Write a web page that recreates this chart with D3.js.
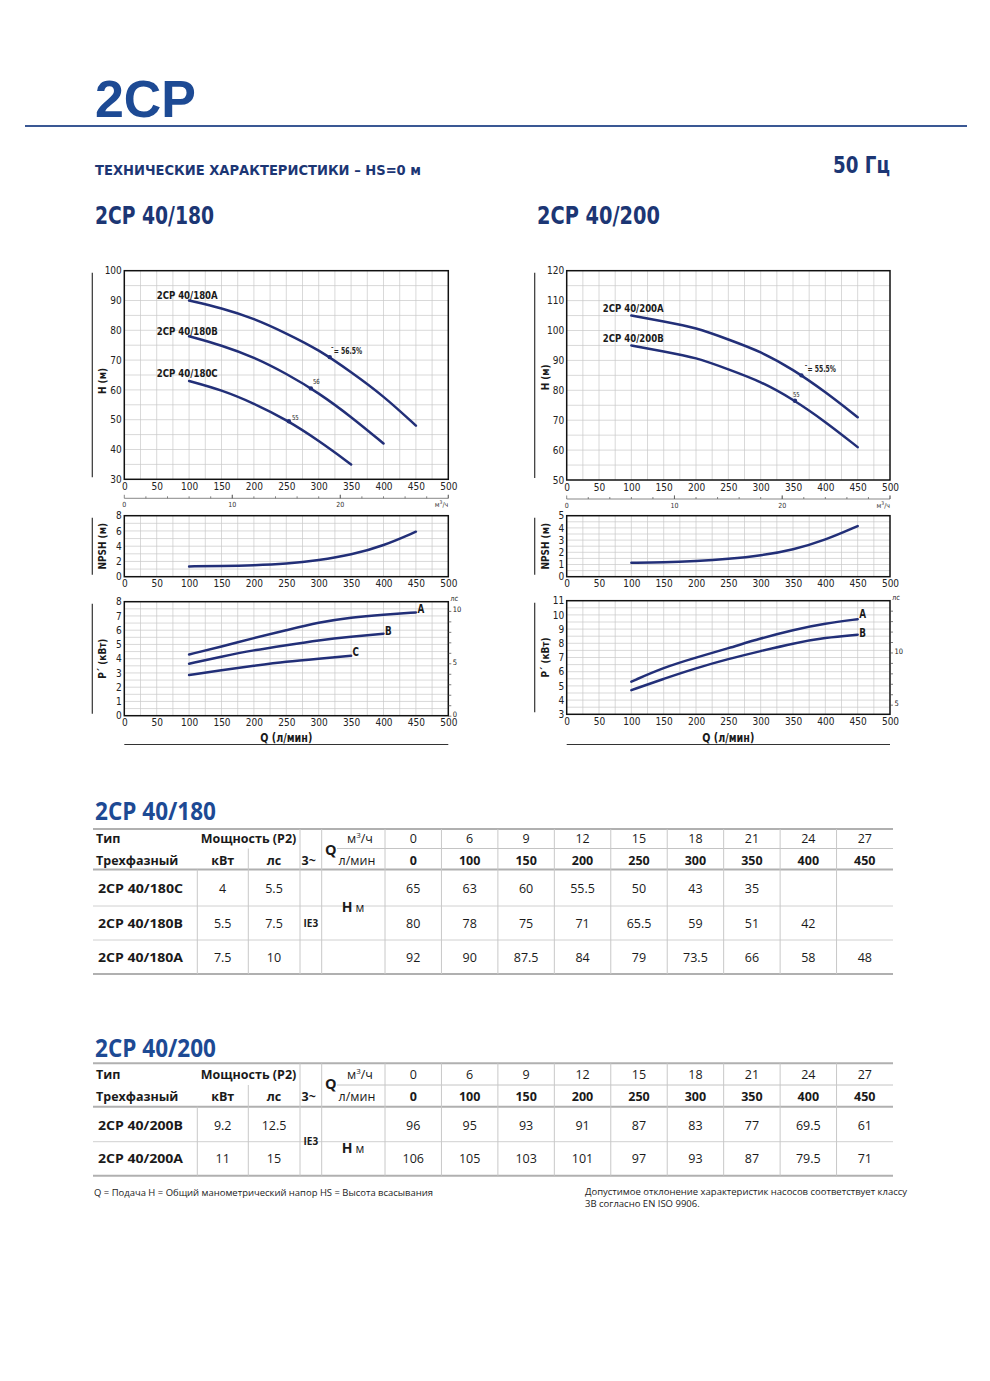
<!DOCTYPE html>
<html>
<head>
<meta charset="utf-8">
<script src="https://cdn.jsdelivr.net/npm/d3@7"></script>
<style>
  body { margin: 0; background: #fff; }
  svg { display: block; }
  .cond { font-stretch: condensed; }
</style>
</head>
<body>
<script>
// ---- table / curve data ----
var flowM3h = [0, 6, 9, 12, 15, 18, 21, 24, 27];
var flowLpm = [0, 100, 150, 200, 250, 300, 350, 400, 450];

var models180 = ["2CP 40/180C", "2CP 40/180B", "2CP 40/180A"];
var kw180 = [4, 5.5, 7.5];
var hp180 = [5.5, 7.5, 10];
var head180C = [65, 63, 60, 55.5, 50, 43, 35];
var head180B = [80, 78, 75, 71, 65.5, 59, 51, 42];
var head180A = [92, 90, 87.5, 84, 79, 73.5, 66, 58, 48];

var models200 = ["2CP 40/200B", "2CP 40/200A"];
var kw200 = [9.2, 11];
var hp200 = [12.5, 15];
var head200B = [96, 95, 93, 91, 87, 83, 77, 69.5, 61];
var head200A = [106, 105, 103, 101, 97, 93, 87, 79.5, 71];

// curves in the lower panels start at 100 l/min
var curveQ = [100, 150, 200, 250, 300, 350, 400, 450];
var npsh180 = [1.35, 1.4, 1.5, 1.7, 2.15, 2.85, 4.05, 5.9];
var npsh200 = [1.15, 1.17, 1.28, 1.45, 1.72, 2.2, 3.0, 4.15];
var power180A = [4.3, 4.85, 5.45, 6.0, 6.55, 6.9, 7.1, 7.25];
var power180B = [3.65, 4.15, 4.6, 4.95, 5.3, 5.55, 5.75];
var power180C = [2.85, 3.2, 3.5, 3.8, 4.0, 4.2];
var power200A = [5.3, 6.3, 7.0, 7.65, 8.35, 8.95, 9.4, 9.7];
var power200B = [4.7, 5.5, 6.25, 6.9, 7.45, 8.0, 8.4, 8.6];

// efficiency points on the H curves
var effQ180 = [317, 288, 254];
var effH180 = [71, 60.5, 49.5];
var effText180 = ["\u02c9= 56.5%", "56", "55"];
var effQ200 = [363, 353];
var effH200 = [85, 76.5];
var effText200 = ["\u02c9= 55.5%", "55"];

var KW_PER_HP = 0.7355;

// ---- styles ----
var condFont = '"DejaVu Sans Condensed","DejaVu Sans","Liberation Sans Narrow",sans-serif';
var tblFont = '"Open Sans","Noto Sans",sans-serif';
var titleBlue = "#1d4a94";
var navy = "#1c3674";
var curveCol = "#222f78";
var gridCol = "#c8c8c8";

var svg = d3.select("body").append("svg")
  .attr("width", 990)
  .attr("height", 1381);

// squeeze a chart text to a condensed look when no condensed face is installed
function squeeze(t, k) {
  var w = t.node().getComputedTextLength();
  if (w > 0) t.attr("textLength", w * k).attr("lengthAdjust", "spacingAndGlyphs");
}

function label(parent, x, y, s, o) {
  o = o || {};
  var t = parent.append("text")
    .attr("x", x).attr("y", y)
    .attr("font-family", o.family || condFont)
    .attr("font-size", o.size || 10)
    .attr("font-weight", o.weight || 400)
    .attr("fill", o.fill || "#1a1a1a")
    .attr("text-anchor", o.anchor || "start")
    .text(s);
  if (!o.family) t.attr("class", "cond");
  if (o.len) t.attr("textLength", o.len).attr("lengthAdjust", "spacingAndGlyphs");
  else if (o.k) squeeze(t, o.k);
  return t;
}

// ---- page header ----
label(svg, 95, 117, "2CP", { family: '"Liberation Sans",Arial,sans-serif', size: 51, weight: 700, fill: titleBlue, len: 101 });
svg.append("line").attr("x1", 25).attr("x2", 967).attr("y1", 126).attr("y2", 126)
  .attr("stroke", "#3a5894").attr("stroke-width", 2);
label(svg, 95, 175, "ТЕХНИЧЕСКИЕ ХАРАКТЕРИСТИКИ – HS=0 м", { size: 14.5, weight: 700, fill: navy, len: 326 });
label(svg, 833, 173, "50 Гц", { size: 23, weight: 700, fill: navy, len: 57 });
label(svg, 95, 224, "2CP 40/180", { size: 25, weight: 700, fill: navy, len: 119 });
label(svg, 537, 224, "2CP 40/200", { size: 25, weight: 700, fill: navy, len: 123 });

// ---- charts ----
function styleAxis(a, size) {
  a.select(".domain").remove();
  a.attr("font-family", condFont).attr("font-size", size).attr("class", "cond");
  a.selectAll("text").attr("fill", "#222");
}

function drawPanel(g, x, p) {
  var x0 = x.range()[0], x1 = x.range()[1];
  var y = d3.scaleLinear().domain(p.domain).range([p.bottom, p.top]);

  var grid = g.append("g").attr("stroke", gridCol).attr("stroke-width", 0.7);
  grid.selectAll("line.v").data(d3.range(25, 500, 25)).join("line").attr("class", "v")
    .attr("x1", x).attr("x2", x).attr("y1", p.top).attr("y2", p.bottom);
  grid.selectAll("line.h").data(d3.range(p.domain[0] + p.grid, p.domain[1] - 1e-6, p.grid)).join("line").attr("class", "h")
    .attr("x1", x0).attr("x2", x1).attr("y1", y).attr("y2", y);

  g.append("rect").attr("x", x0).attr("y", p.top)
    .attr("width", x1 - x0).attr("height", p.bottom - p.top)
    .attr("fill", "none").attr("stroke", "#111").attr("stroke-width", 1.5);

  var ax = g.append("g").attr("transform", "translate(0," + p.bottom + ")")
    .call(d3.axisBottom(x).tickValues(d3.range(0, 501, 50)).tickSize(0).tickPadding(3.5).tickFormat(d3.format("d")));
  styleAxis(ax, 10);

  var ay = g.append("g").attr("transform", "translate(" + x0 + ",0)")
    .call(d3.axisLeft(y).tickValues(d3.range(p.domain[0], p.domain[1] + 1e-6, p.tick)).tickSize(0).tickPadding(2.5)
      .tickFormat(d3.format("d")));
  styleAxis(ay, 10);

  var cy = (p.top + p.bottom) / 2 + (p.titleDy || 0);
  var yt = g.append("text")
    .attr("class", "cond")
    .attr("transform", "translate(" + (x0 - 22) + "," + cy + ") rotate(-90)")
    .attr("text-anchor", "middle").attr("dy", "0.35em")
    .attr("font-family", condFont).attr("font-size", 11).attr("font-weight", 700).attr("fill", "#1a1a1a")
    .text(p.title);
  squeeze(yt, 0.9);
  g.append("line").attr("x1", x0 - 32).attr("x2", x0 - 32).attr("y1", p.top + 2).attr("y2", p.bottom - 2)
    .attr("stroke", "#333").attr("stroke-width", 1.2);

  if (p.hp) {
    var hp = d3.scaleLinear().domain([p.domain[0] / KW_PER_HP, p.domain[1] / KW_PER_HP]).range([p.bottom, p.top]);
    var ah = g.append("g").attr("transform", "translate(" + x1 + ",0)")
      .call(d3.axisRight(hp).tickValues(p.hp).tickSize(3).tickPadding(1.5)
        .tickFormat(function (d) { return d % 5 === 0 ? d : ""; }));
    styleAxis(ah, 7.5);
    ah.selectAll("text").attr("dy", "0.1em");
    ah.selectAll("line").attr("stroke", "#444").attr("stroke-width", 0.7);
    label(g, x1 + 2, p.top - 1, "лс", { size: 7.5, fill: "#222" });
  }
  return y;
}

function drawCurve(g, x, y, qs, vs) {
  var line = d3.line()
    .x(function (d) { return x(d[0]); })
    .y(function (d) { return y(d[1]); })
    .curve(d3.curveBasis);
  var pts = d3.zip(qs, vs);
  g.append("path").datum(pts).attr("d", line)
    .attr("fill", "none").attr("stroke", curveCol).attr("stroke-width", 2.5).attr("stroke-linecap", "round");
  return pts[pts.length - 1];
}

function drawChart(c) {
  var g = svg.append("g");
  var x = d3.scaleLinear().domain([0, 500]).range([c.x0, c.x1]);

  // H panel
  var yH = drawPanel(g, x, c.hPanel);
  c.heads.forEach(function (h, i) {
    drawCurve(g, x, yH, flowLpm.slice(1, h.length), h.slice(1));
    label(g, x(c.nameQ), yH(c.nameH[i]), c.names[i], { size: 10.5, weight: 700, len: 61 });
  });
  c.effQ.forEach(function (q, i) {
    g.append("circle").attr("cx", x(q)).attr("cy", yH(c.effH[i])).attr("r", 2.2).attr("fill", curveCol);
    var big = c.effText[i].length > 3;
    label(g, x(q) + c.effDx[i], yH(c.effH[i]) + c.effDy[i], c.effText[i],
      { size: big ? 8 : 7, weight: big ? 700 : 400, fill: "#222", k: 0.85 });
  });

  // m3/h scale under the H panel
  var m3 = d3.scaleLinear().domain([0, 30]).range([c.x0, c.x1]);
  var ay = c.hPanel.bottom + 19;
  var sec = g.append("g").attr("stroke", "#555").attr("stroke-width", 0.7);
  sec.append("line").attr("x1", c.x0).attr("x2", c.x1).attr("y1", ay).attr("y2", ay);
  sec.selectAll("line.t").data(d3.range(0, 31, 2).concat([10, 20, 30])).join("line").attr("class", "t")
    .attr("x1", m3).attr("x2", m3)
    .attr("y1", function (d) { return d % 10 === 0 ? ay - 3.5 : ay - 2; }).attr("y2", ay);
  [0, 10, 20].forEach(function (d) {
    label(g, m3(d), ay + 8.5, d, { size: 7, anchor: "middle", fill: "#333" });
  });
  g.append("text").attr("x", c.x1).attr("y", ay + 8.5).attr("text-anchor", "end").attr("class", "cond")
    .attr("font-family", condFont).attr("font-size", 7).attr("fill", "#333")
    .call(function (t) {
      t.append("tspan").text("м");
      t.append("tspan").attr("font-size", 5).attr("dy", -2.5).text("3");
      t.append("tspan").attr("dy", 2.5).text("/ч");
    });

  // NPSH panel
  var yN = drawPanel(g, x, c.nPanel);
  drawCurve(g, x, yN, curveQ, c.npsh);

  // power panel
  var yP = drawPanel(g, x, c.pPanel);
  c.power.forEach(function (pw, i) {
    var end = drawCurve(g, x, yP, curveQ.slice(0, pw.length), pw);
    label(g, x(end[0]) + 1.5, yP(end[1]) + c.letterDy[i], c.letters[i], { size: 11.5, weight: 700, k: 0.85 });
  });

  label(g, (c.x0 + c.x1) / 2, 741.5, "Q (л/мин)", { size: 11.5, weight: 700, anchor: "middle", len: 52 });
  g.append("line").attr("x1", c.x0).attr("x2", c.x1).attr("y1", 744.5).attr("y2", 744.5)
    .attr("stroke", "#333").attr("stroke-width", 1.2);
}

drawChart({
  x0: 124.3, x1: 448.3,
  hPanel: { top: 270.7, bottom: 479.3, domain: [30, 100], grid: 5, tick: 10, title: "H (м)", titleDy: 6 },
  nPanel: { top: 515.7, bottom: 576.7, domain: [0, 8], grid: 1, tick: 2, title: "NPSH (м)" },
  pPanel: { top: 601.7, bottom: 715.7, domain: [0, 8], grid: 0.5, tick: 1, title: "P\u00b4 (кВт)", hp: d3.range(0, 11) },
  heads: [head180A, head180B, head180C],
  names: ["2CP 40/180A", "2CP 40/180B", "2CP 40/180C"],
  nameQ: 50, nameH: [90.6, 78.4, 64.2],
  effQ: effQ180, effH: effH180, effText: effText180,
  effDx: [1, 2, 3], effDy: [-3, -4, -1],
  npsh: npsh180,
  power: [power180A, power180B, power180C],
  letters: ["A", "B", "C"], letterDy: [1, 1, 0]
});

drawChart({
  x0: 566.7, x1: 890,
  hPanel: { top: 270.7, bottom: 480, domain: [50, 120], grid: 5, tick: 10, title: "H (м)", titleDy: 2 },
  nPanel: { top: 515.7, bottom: 576.7, domain: [0, 5], grid: 0.5, tick: 1, title: "NPSH (м)" },
  pPanel: { top: 600.7, bottom: 714.3, domain: [3, 11], grid: 0.5, tick: 1, title: "P\u00b4 (кВт)", hp: d3.range(5, 15) },
  heads: [head200A, head200B],
  names: ["2CP 40/200A", "2CP 40/200B"],
  nameQ: 55.7, nameH: [106.3, 96.3],
  effQ: effQ200, effH: effH200, effText: effText200,
  effDx: [3, -2], effDy: [-3, -3.5],
  npsh: npsh200,
  power: [power200A, power200B],
  letters: ["A", "B"], letterDy: [-1, 2]
});

// ---- tables ----
function drawTable(t) {
  var g = svg.append("g");
  var left = 93, right = 893;
  var col = d3.scaleBand().domain(d3.range(flowLpm.length)).range([385, right]);
  var kwX = 222.7, hpX = 274, phaseX = 310.8;

  label(g, 95, t.titleBase, t.title, { family: tblFont, size: 25, weight: 700, fill: titleBlue, len: 121 });

  // rules
  var thick = [t.T, t.hb, t.bottom];
  g.selectAll("line.thick").data(thick).join("line").attr("class", "thick")
    .attr("x1", left).attr("x2", right).attr("y1", function (d) { return d; }).attr("y2", function (d) { return d; })
    .attr("stroke", "#b0b0b0").attr("stroke-width", 2);
  g.selectAll("line.thin").data(t.rowLines).join("line").attr("class", "thin")
    .attr("x1", left).attr("x2", right).attr("y1", function (d) { return d; }).attr("y2", function (d) { return d; })
    .attr("stroke", "#d0d0d0").attr("stroke-width", 1);
  g.append("line").attr("x1", 337).attr("x2", right).attr("y1", t.mid).attr("y2", t.mid)
    .attr("stroke", "#c4c4c4").attr("stroke-width", 1);

  var vLines = [
    { x: 197.3, y1: t.hb }, { x: 248.3, y1: t.mid }, { x: 300, y1: t.T }, { x: 321.7, y1: t.T }
  ].concat(col.domain().map(function (i) { return { x: col(i), y1: t.T }; }));
  g.selectAll("line.vl").data(vLines).join("line").attr("class", "vl")
    .attr("x1", function (d) { return d.x; }).attr("x2", function (d) { return d.x; })
    .attr("y1", function (d) { return d.y1; }).attr("y2", t.bottom)
    .attr("stroke", "#c8c8c8").attr("stroke-width", 1);

  var hdr = { family: tblFont, size: 12.5, weight: 700 };
  label(g, 96, t.b1, "Тип", hdr);
  label(g, 96, t.b2, "Трехфазный", hdr);
  label(g, 248.5, t.b1, "Мощность (P2)", Object.assign({ anchor: "middle" }, hdr));
  label(g, kwX, t.b2, "кВт", Object.assign({ anchor: "middle" }, hdr));
  label(g, hpX, t.b2, "лс", Object.assign({ anchor: "middle" }, hdr));
  label(g, 301.5, t.b2, "3~", hdr);
  label(g, 325, t.qBase, "Q", { family: tblFont, size: 14.5, weight: 700 });

  g.append("text").attr("x", 360).attr("y", t.b1).attr("text-anchor", "middle")
    .attr("font-family", tblFont).attr("font-size", 12.5).attr("fill", "#1a1a1a")
    .call(function (s) {
      s.append("tspan").text("м");
      s.append("tspan").attr("font-size", 8).attr("dy", -5).text("3");
      s.append("tspan").attr("dy", 5).text("/ч");
    });
  label(g, 357, t.b2, "л/мин", { family: tblFont, size: 12.5, anchor: "middle" });

  flowM3h.forEach(function (v, i) {
    label(g, col(i) + col.bandwidth() / 2, t.b1, v, { family: tblFont, size: 12.5, anchor: "middle" });
  });
  flowLpm.forEach(function (v, i) {
    label(g, col(i) + col.bandwidth() / 2, t.b2, v, { family: tblFont, size: 12.5, weight: 700, anchor: "middle" });
  });

  label(g, phaseX, t.ie3Base, "IE3", { family: tblFont, size: 10, weight: 700, anchor: "middle" });
  g.append("text").attr("x", 353).attr("y", t.hBase).attr("text-anchor", "middle")
    .attr("font-family", tblFont).attr("fill", "#1a1a1a")
    .call(function (s) {
      s.append("tspan").attr("font-size", 14).attr("font-weight", 700).text("H");
      s.append("tspan").attr("font-size", 12).text(" м");
    });

  t.models.forEach(function (m, r) {
    var yb = t.rowBase[r];
    label(g, 98, yb, m, { family: tblFont, size: 13, weight: 700, len: 85 });
    label(g, kwX, yb, t.kw[r], { family: tblFont, size: 12.5, anchor: "middle" });
    label(g, hpX, yb, t.hp[r], { family: tblFont, size: 12.5, anchor: "middle" });
    t.heads[r].forEach(function (v, i) {
      label(g, col(i) + col.bandwidth() / 2, yb, v, { family: tblFont, size: 12.5, anchor: "middle" });
    });
  });
}

drawTable({
  title: "2CP 40/180", titleBase: 820,
  T: 829, mid: 848.5, hb: 869.5, rowLines: [906, 940], bottom: 974,
  b1: 842.5, b2: 864.5, qBase: 854.5, rowBase: [893, 928, 962],
  ie3Base: 926.7, hBase: 911.7,
  models: models180, kw: kw180, hp: hp180, heads: [head180C, head180B, head180A]
});

drawTable({
  title: "2CP 40/200", titleBase: 1056.5,
  T: 1063.3, mid: 1085, hb: 1106.7, rowLines: [1141.7], bottom: 1175.7,
  b1: 1079, b2: 1100.5, qBase: 1089, rowBase: [1130, 1163.3],
  ie3Base: 1145, hBase: 1153.3,
  models: models200, kw: kw200, hp: hp200, heads: [head200B, head200A]
});

// ---- footnotes ----
label(svg, 94, 1196, "Q = Подача H = Общий манометрический напор  HS = Высота всасывания",
  { family: tblFont, size: 9.5, fill: "#222", len: 339 });
label(svg, 585, 1195, "Допустимое отклонение характеристик насосов соответствует классу",
  { family: tblFont, size: 9.5, fill: "#222", len: 322 });
label(svg, 585, 1207, "3B согласно EN ISO 9906.", { family: tblFont, size: 9.5, fill: "#222" });
</script>
</body>
</html>
